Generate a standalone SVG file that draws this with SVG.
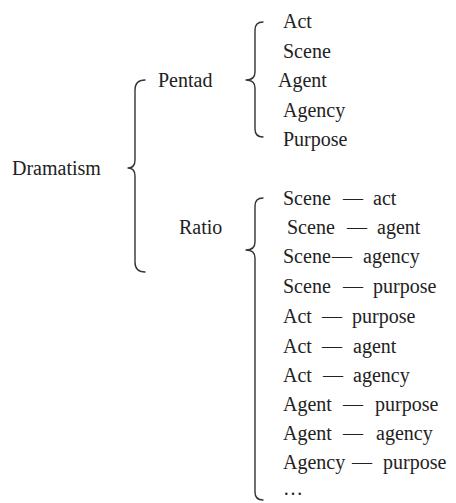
<svg xmlns="http://www.w3.org/2000/svg" width="456" height="503" viewBox="0 0 456 503">
<style>
text{font-family:"Liberation Serif","Times New Roman",serif;font-size:20px;fill:#222}
.brace{fill:none;stroke:#333;stroke-width:1.4;stroke-linecap:round;stroke-linejoin:round}
</style>
<rect width="456" height="503" fill="#fff"/>
<g id="connectors">
<path class="brace" d="M145,80 Q135,80 135,90 L135,160 Q135,168 128,168 Q135,168 135,176 L135,262 Q135,272 145,272"/>
<path class="brace" d="M263,22 Q255,22 255,30 L255,72 Q255,80 246,80 Q255,80 255,88 L255,129 Q255,137 263,137"/>
<path class="brace" d="M263,198 Q255,198 255,206 L255,242 Q255,250 246,250 Q255,250 255,258 L255,492 Q255,500 263,500"/>
</g>
<g id="dramatism"><text x="12" y="175">Dramatism</text></g>
<g id="pentad"><text x="158" y="87">Pentad</text></g>
<g id="ratio"><text x="179" y="234">Ratio</text></g>
<g id="pentad-items">
<text x="283" y="28">Act</text>
<text x="283" y="58">Scene</text>
<text x="278" y="87">Agent</text>
<text x="283" y="117">Agency</text>
<text x="283" y="146">Purpose</text>
</g>
<g id="ratio-items">
<text y="205"><tspan x="283">Scene</tspan> <tspan x="343">—</tspan> <tspan x="373">act</tspan></text>
<text y="234"><tspan x="287">Scene</tspan> <tspan x="347">—</tspan> <tspan x="377">agent</tspan></text>
<text y="263"><tspan x="283">Scene</tspan><tspan x="332">—</tspan> <tspan x="363">agency</tspan></text>
<text y="293"><tspan x="283">Scene</tspan> <tspan x="343">—</tspan> <tspan x="373">purpose</tspan></text>
<text y="323"><tspan x="283">Act</tspan> <tspan x="322">—</tspan> <tspan x="352">purpose</tspan></text>
<text y="353"><tspan x="283">Act</tspan> <tspan x="322">—</tspan> <tspan x="353">agent</tspan></text>
<text y="382"><tspan x="283">Act</tspan> <tspan x="323">—</tspan> <tspan x="353">agency</tspan></text>
<text y="411"><tspan x="283">Agent</tspan> <tspan x="343">—</tspan> <tspan x="375">purpose</tspan></text>
<text y="440"><tspan x="283">Agent</tspan> <tspan x="343">—</tspan> <tspan x="376">agency</tspan></text>
<text y="469"><tspan x="283">Agency</tspan> <tspan x="352">—</tspan> <tspan x="383">purpose</tspan></text>
<text x="283" y="495">…</text>
</g>
</svg>
